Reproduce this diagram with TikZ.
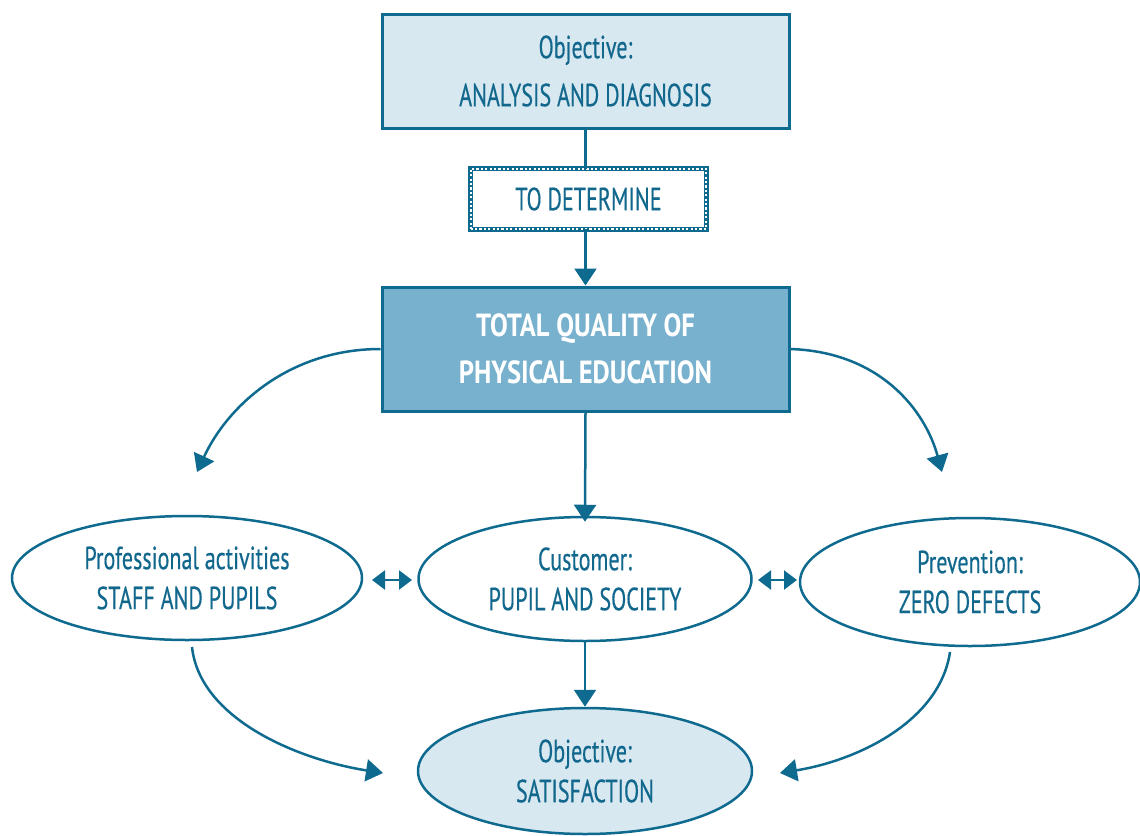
\documentclass[tikz,border=0pt]{standalone}
\usepackage{fontspec}
\setmainfont{PT Sans}[FakeStretch=0.69, FakeBold=0.4]
\newfontfamily\titlefont{PT Sans}[FakeStretch=0.83]
\usetikzlibrary{arrows.meta,shapes.geometric}
\definecolor{edge}{HTML}{0E6A8E}
\definecolor{ink}{HTML}{12678D}
\definecolor{pale}{HTML}{D7E8F0}
\definecolor{mid}{HTML}{78B1CE}
\tikzset{
  txt/.style={font=\fontsize{32}{48}\selectfont, text=ink, align=center},
  boxA/.style={draw=edge, line width=3pt, fill=pale, minimum width=407pt, minimum height=114pt, inner sep=0pt, txt},
  boxB/.style={draw=edge, line width=3pt, fill=mid, minimum width=407pt, minimum height=124pt, inner sep=0pt, txt, text=white, font=\fontsize{32}{47}\titlefont\bfseries},
  ell/.style={ellipse, draw=edge, line width=2.5pt, inner sep=0pt, txt, font=\fontsize{32}{40}\selectfont},
  arr/.style={draw=edge, line width=2.5pt, -{Triangle[width=22pt,length=17pt]}},
  darr/.style={draw=edge, line width=2.5pt, {Triangle[width=19pt,length=13pt]}-{Triangle[width=19pt,length=13pt]}},
  plain/.style={draw=edge, line width=2.5pt},
}
\begin{document}
\begin{tikzpicture}[x=1pt,y=-1pt]
\useasboundingbox (0,0) rectangle (1140,835);
\node[boxA] (top) at (585.5,71) {Objective:\\ANALYSIS AND DIAGNOSIS};
\node[txt, minimum width=235pt, minimum height=60pt, inner sep=0pt] (det) at (588.5,199) {TO DETERMINE};
\draw[edge, line width=5pt] (det.south west) rectangle (det.north east);
\draw[white, line width=1.6pt, dash pattern=on 2.2pt off 2.2pt] (det.south west) rectangle (det.north east);
\node[boxB] (main) at (585.5,349) {TOTAL QUALITY OF\\PHYSICAL EDUCATION};
\node[ell, minimum width=350pt, minimum height=124pt] (left) at (187,578) {Professional activities\\STAFF AND PUPILS};
\node[ell, minimum width=333pt, minimum height=124pt] (cen) at (585,579) {Customer:\\PUPIL AND SOCIETY};
\node[ell, minimum width=340pt, minimum height=128pt] (right) at (970,582) {Prevention:\\ZERO DEFECTS};
\node[ell, fill=pale, minimum width=334pt, minimum height=126pt] (sat) at (585,771) {Objective:\\SATISFACTION};
\coordinate (l1) at (197,472);
\coordinate (r1) at (942,472);
\coordinate (l2) at (383,773);
\coordinate (r2) at (780,773);
\coordinate (ls) at (192,647);
\coordinate (rs) at (950,652);
\coordinate (da1) at (372,580);
\coordinate (da2) at (412,580);
\coordinate (db1) at (758,580);
\coordinate (db2) at (797,580);
\draw[plain] (top.south) -- (top.south |- det.north);
\draw[arr] (top.south |- det.south) -- (main.north);
\draw[arr] (main.south) -- ([yshift=-6pt]cen.north);
\draw[arr] (cen.south) -- (sat.north);
\draw[arr] (main.west) .. controls (290,349) and (228,405) .. (l1);
\draw[arr] (main.east) .. controls (880,352) and (925,410) .. (r1);
\draw[arr] (ls) .. controls (200,720) and (300,760) .. (l2);
\draw[arr] (rs) .. controls (940,720) and (860,760) .. (r2);
\draw[darr] (da1) -- (da2);
\draw[darr] (db1) -- (db2);
\end{tikzpicture}
\end{document}
